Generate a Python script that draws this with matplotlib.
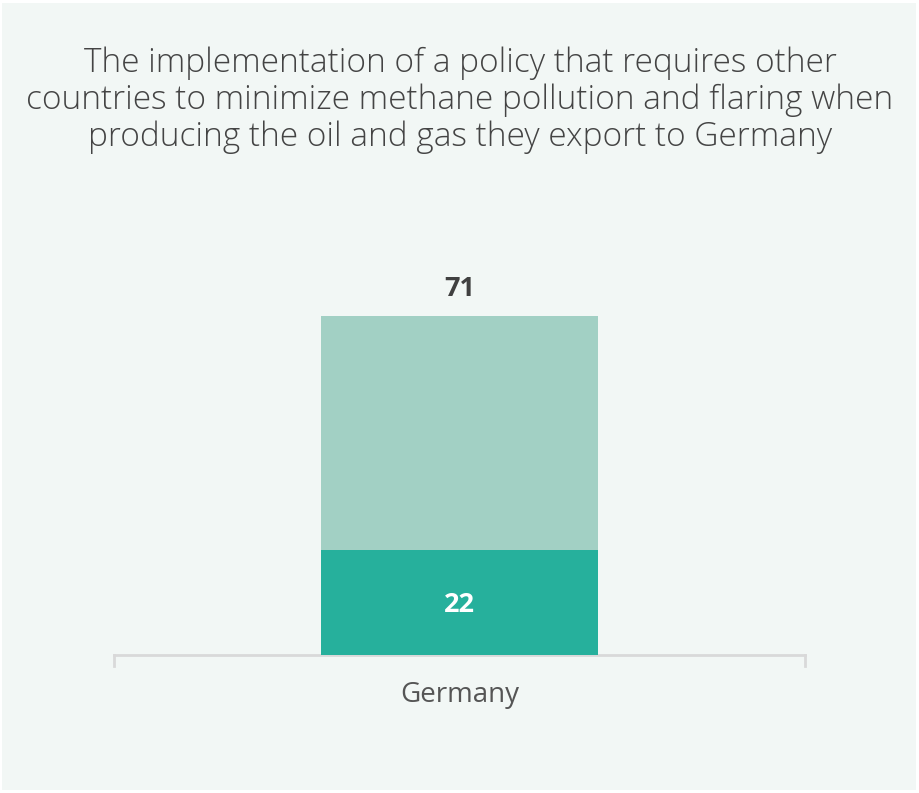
import matplotlib
matplotlib.use("Agg")
import matplotlib.pyplot as plt
from matplotlib.patches import Rectangle
from matplotlib.lines import Line2D

categories = ["Germany"]
strongly_support = [22]
total_support = [71]
somewhat_support = [t - s for t, s in zip(total_support, strongly_support)]

title = ("The implementation of a policy that requires other\n"
         "countries to minimize methane pollution and flaring when\n"
         "producing the oil and gas they export to Germany")

fig = plt.figure(figsize=(9.2, 7.93), dpi=100, facecolor="white")
fig.patches.append(Rectangle((2 / 920, 3 / 793), 914 / 920, 787 / 793,
                             transform=fig.transFigure, facecolor="#f2f7f5",
                             edgecolor="none", zorder=-5))

fig.text(0.5, 1 - 100 / 793, title, ha="center", va="center",
         fontsize=24, color="#444444", family=["Open Sans", "DejaVu Sans"],
         fontweight="light", linespacing=1.13)

ax = fig.add_axes([114 / 920, (793 - 655) / 793, 691 / 920, 425 / 793])
ax.set_facecolor("none")
ax.set_xlim(-0.5, 0.5)
ax.set_ylim(0, 89)

x = list(range(len(categories)))
width = 0.40
ax.bar(x, strongly_support, width=width, color="#26b09c", zorder=2)
ax.bar(x, somewhat_support, bottom=strongly_support, width=width,
       color="#a2d0c4", zorder=2)

for xi, s, t in zip(x, strongly_support, total_support):
    ax.text(xi, s / 2 - 0.5, f"{s}", ha="center", va="center", color="white",
            fontsize=19.5, fontweight="bold", family=["Open Sans", "DejaVu Sans"])
    ax.text(xi, t + 5.6, f"{t}", ha="center", va="center", color="#404040",
            fontsize=19.5, fontweight="bold", family=["Open Sans", "DejaVu Sans"])

for side in ["top", "right", "left", "bottom"]:
    ax.spines[side].set_visible(False)
ax.set_yticks([])
ax.set_xticks([])

# baseline with end ticks
ax.add_line(Line2D([-0.5, 0.5], [0, 0], color="#d9d9d9", lw=2,
                   clip_on=False, zorder=1))
for xe in (-0.5, 0.5):
    ax.add_line(Line2D([xe, xe], [0, -2.2], color="#d9d9d9", lw=2,
                       clip_on=False, zorder=1))

for xi, c in zip(x, categories):
    ax.text(xi, -8.4, c, ha="center", va="center", color="#555555",
            fontsize=20, family=["Open Sans", "DejaVu Sans"])

fig.savefig("out.png", dpi=100, facecolor="white")
